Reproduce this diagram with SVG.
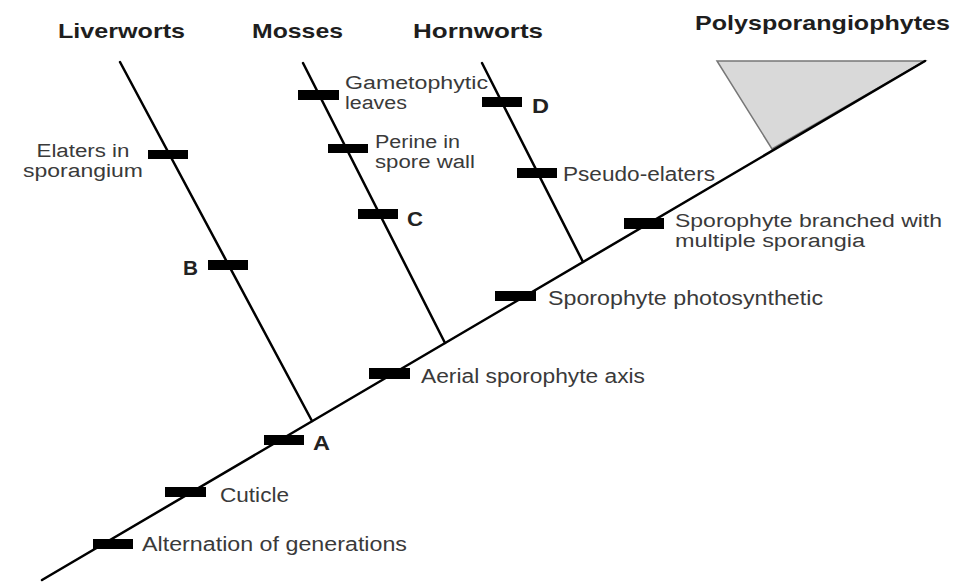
<svg xmlns="http://www.w3.org/2000/svg" width="978" height="584" viewBox="0 0 978 584">
<style>
.hdr{font-family:"Liberation Sans",Arial,sans-serif;font-weight:bold;font-size:21px;fill:#1e1e1e}
.lbl{font-family:"Liberation Sans",Arial,sans-serif;font-size:20px;fill:#3a3a3a}
.two{font-size:18px}
.let{font-family:"Liberation Sans",Arial,sans-serif;font-weight:bold;font-size:21px;fill:#222}
.tick{fill:#000}
.br{stroke:#000;stroke-width:2.5;fill:none;stroke-linecap:round}
</style>
<rect width="978" height="584" fill="#fff"/>
<g id="headers">
<g id="liverworts"><text class="hdr" x="58" y="38" textLength="127" lengthAdjust="spacingAndGlyphs">Liverworts</text></g>
<g id="mosses"><text class="hdr" x="252" y="38" textLength="91" lengthAdjust="spacingAndGlyphs">Mosses</text></g>
<g id="hornworts"><text class="hdr" x="413" y="38" textLength="130" lengthAdjust="spacingAndGlyphs">Hornworts</text></g>
<g id="polysporangiophytes"><text class="hdr" x="695" y="30" textLength="255" lengthAdjust="spacingAndGlyphs">Polysporangiophytes</text></g>
</g>
<g id="triangle"><polygon points="717,61 925,61 772,149" fill="#d9d9d9" stroke="#777" stroke-width="1.5"/></g>
<g id="connectors">
<line class="br" x1="42" y1="580" x2="925" y2="61" stroke-width="3"/>
<line class="br" x1="120" y1="62" x2="312" y2="421"/>
<line class="br" x1="303" y1="63" x2="445" y2="343"/>
<line class="br" x1="482" y1="63" x2="583" y2="262"/>
</g>
<g id="elaters"><rect class="tick" x="148" y="150" width="40" height="9"/>
<text class="lbl two" x="83" y="157" text-anchor="middle" textLength="93" lengthAdjust="spacingAndGlyphs">Elaters in</text>
<text class="lbl two" x="83" y="177" text-anchor="middle" textLength="120" lengthAdjust="spacingAndGlyphs">sporangium</text></g>
<g id="B"><rect class="tick" x="208" y="260" width="40" height="10"/><text class="let" x="183" y="275" textLength="15" lengthAdjust="spacingAndGlyphs">B</text></g>
<g id="gametophytic"><rect class="tick" x="298" y="90" width="41" height="10"/>
<text class="lbl two" x="345" y="89" textLength="143" lengthAdjust="spacingAndGlyphs">Gametophytic</text>
<text class="lbl two" x="345" y="109" textLength="62" lengthAdjust="spacingAndGlyphs">leaves</text></g>
<g id="perine"><rect class="tick" x="328" y="144" width="40" height="9"/>
<text class="lbl two" x="375" y="148" textLength="85" lengthAdjust="spacingAndGlyphs">Perine in</text>
<text class="lbl two" x="375" y="168" textLength="100" lengthAdjust="spacingAndGlyphs">spore wall</text></g>
<g id="C"><rect class="tick" x="358" y="209" width="40" height="10"/><text class="let" x="407" y="226" textLength="16" lengthAdjust="spacingAndGlyphs">C</text></g>
<g id="D"><rect class="tick" x="482" y="97" width="40" height="10"/><text class="let" x="532" y="113" textLength="17" lengthAdjust="spacingAndGlyphs">D</text></g>
<g id="pseudoelaters"><rect class="tick" x="517" y="168" width="40" height="10"/>
<text class="lbl" x="563" y="181" textLength="152" lengthAdjust="spacingAndGlyphs">Pseudo-elaters</text></g>
<g id="branched"><rect class="tick" x="624" y="218" width="40" height="11"/>
<text class="lbl two" x="675" y="227" textLength="267" lengthAdjust="spacingAndGlyphs">Sporophyte branched with</text>
<text class="lbl two" x="675" y="247" textLength="190" lengthAdjust="spacingAndGlyphs">multiple sporangia</text></g>
<g id="photosynthetic"><rect class="tick" x="495" y="291" width="41" height="10"/>
<text class="lbl" x="548" y="305" textLength="275" lengthAdjust="spacingAndGlyphs">Sporophyte photosynthetic</text></g>
<g id="aerial"><rect class="tick" x="369" y="368" width="41" height="11"/>
<text class="lbl" x="421" y="383" textLength="224" lengthAdjust="spacingAndGlyphs">Aerial sporophyte axis</text></g>
<g id="A"><rect class="tick" x="264" y="435" width="40" height="10"/><text class="let" x="313" y="450" textLength="17" lengthAdjust="spacingAndGlyphs">A</text></g>
<g id="cuticle"><rect class="tick" x="165" y="487" width="41" height="10"/>
<text class="lbl" x="220" y="502" textLength="69" lengthAdjust="spacingAndGlyphs">Cuticle</text></g>
<g id="alternation"><rect class="tick" x="93" y="539" width="40" height="10"/>
<text class="lbl" x="142" y="551" textLength="265" lengthAdjust="spacingAndGlyphs">Alternation of generations</text></g>
</svg>
